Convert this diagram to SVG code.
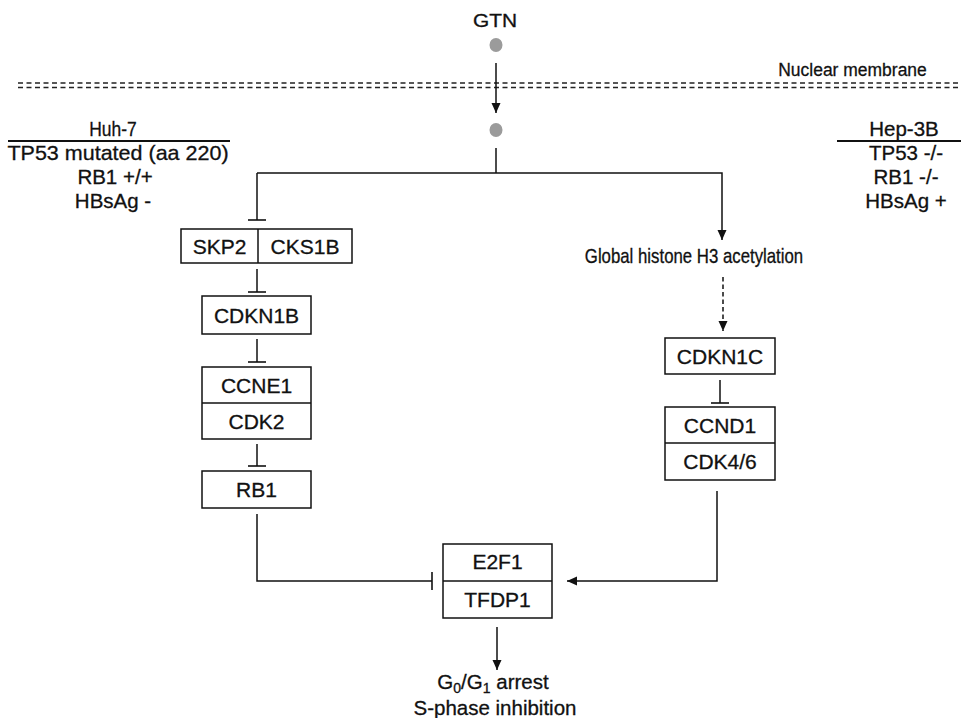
<svg xmlns="http://www.w3.org/2000/svg" width="961" height="718" viewBox="0 0 961 718">
<style>
text{font-family:"Liberation Sans",Arial,sans-serif;fill:#111;stroke:#111;stroke-width:0.3;}
.lbl{font-size:20.5px;text-anchor:middle;}
.box{font-size:21px;text-anchor:middle;}
.node rect{fill:#fff;stroke:#111;stroke-width:1.5;}
.node line{stroke:#111;stroke-width:1.5;}
.edge{fill:none;stroke:#111;stroke-width:1.5;}
.dash{stroke-dasharray:4.5 3;}
.mem{stroke:#222;stroke-width:1.5;stroke-dasharray:5 3.5;}
.dot{fill:#9b9b9b;}
</style>
<defs>
<marker id="arrow" markerUnits="userSpaceOnUse" markerWidth="10" markerHeight="10" refX="10" refY="5" orient="auto" viewBox="0 0 10 10">
<path d="M0,0.5 L10,5 L0,9.5 z" fill="#111"/>
</marker>
<marker id="tee" markerUnits="userSpaceOnUse" markerWidth="4" markerHeight="20" refX="2" refY="10" orient="auto" viewBox="0 0 4 20">
<path d="M2,1 L2,19" stroke="#111" stroke-width="1.6"/>
</marker>
</defs>

<g id="membrane">
<line class="mem" x1="18" y1="83" x2="961" y2="83"/>
<line class="mem" x1="18" y1="87.5" x2="961" y2="87.5"/>
<text transform="translate(852.5,76) scale(0.92,1)" x="0" y="0" font-size="19" text-anchor="middle">Nuclear membrane</text>
</g>

<g id="gtn">
<text transform="translate(495,27) scale(1.1,1)" x="0" y="0" font-size="19" text-anchor="middle">GTN</text>
<ellipse class="dot" cx="496" cy="45" rx="6.5" ry="7"/>
</g>
<g id="gtn-nucleus">
<ellipse class="dot" cx="496" cy="130" rx="6.5" ry="7"/>
</g>

<g id="huh7">
<text class="lbl" transform="translate(113,136) scale(0.85,1)" x="0" y="0">Huh-7</text>
<line x1="8" y1="141" x2="230" y2="141" stroke="#111" stroke-width="1.8"/>
<text class="lbl" transform="translate(118,160) scale(1.05,1)" x="0" y="0">TP53 mutated (aa 220)</text>
<text class="lbl" x="115" y="184">RB1 +/+</text>
<text class="lbl" x="113" y="208">HBsAg -</text>
</g>

<g id="hep3b">
<text class="lbl" x="904" y="136">Hep-3B</text>
<line x1="837" y1="141" x2="961" y2="141" stroke="#111" stroke-width="1.8"/>
<text class="lbl" x="906" y="160">TP53 -/-</text>
<text class="lbl" x="906" y="184">RB1 -/-</text>
<text class="lbl" x="906" y="208">HBsAg +</text>
</g>

<g id="skp2-cks1b" class="node">
<rect x="181" y="229" width="171" height="34"/>
<line x1="258" y1="229" x2="258" y2="263"/>
<text class="box" x="219.5" y="253.5">SKP2</text>
<text class="box" x="305" y="253.5">CKS1B</text>
</g>

<g id="cdkn1b" class="node">
<rect x="202" y="296" width="109" height="38"/>
<text class="box" x="256.5" y="322.5">CDKN1B</text>
</g>

<g id="ccne1-cdk2" class="node">
<rect x="202" y="367" width="109" height="72"/>
<line x1="202" y1="403" x2="311" y2="403"/>
<text class="box" x="256.5" y="392.5">CCNE1</text>
<text class="box" x="256.5" y="428.5">CDK2</text>
</g>

<g id="rb1" class="node">
<rect x="202" y="471" width="109" height="37"/>
<text class="box" x="256.5" y="497">RB1</text>
</g>

<g id="h3-acetylation">
<text transform="translate(694,263) scale(0.84,1)" x="0" y="0" font-size="20" text-anchor="middle">Global histone H3 acetylation</text>
</g>

<g id="cdkn1c" class="node">
<rect x="665" y="338" width="110" height="36"/>
<text class="box" x="720" y="363.5">CDKN1C</text>
</g>

<g id="ccnd1-cdk46" class="node">
<rect x="665" y="407" width="110" height="73"/>
<line x1="665" y1="443" x2="775" y2="443"/>
<text class="box" x="720" y="432.5">CCND1</text>
<text class="box" x="720" y="469">CDK4/6</text>
</g>

<g id="e2f1-tfdp1" class="node">
<rect x="443" y="544" width="109" height="74"/>
<line x1="443" y1="581" x2="552" y2="581"/>
<text class="box" x="497.5" y="569">E2F1</text>
<text class="box" x="497.5" y="607">TFDP1</text>
</g>

<g id="outcome">
<text class="lbl" x="493" y="689" font-size="21">G<tspan font-size="14" dy="4">0</tspan><tspan dy="-4">/G</tspan><tspan font-size="14" dy="4">1</tspan><tspan dy="-4"> arrest</tspan></text>
<text class="lbl" x="495" y="715" font-size="21">S-phase inhibition</text>
</g>

<g id="connectors">
<line class="edge" x1="496" y1="63" x2="496" y2="113" marker-end="url(#arrow)"/>
<polyline class="edge" points="496,148 496,173"/>
<polyline class="edge" points="257,173 722,173 722,240" marker-end="url(#arrow)"/>
<line class="edge" x1="257" y1="173" x2="257" y2="220" marker-end="url(#tee)"/>
<line class="edge" x1="257" y1="269" x2="257" y2="292" marker-end="url(#tee)"/>
<line class="edge" x1="257" y1="339" x2="257" y2="362" marker-end="url(#tee)"/>
<line class="edge" x1="257" y1="444" x2="257" y2="466" marker-end="url(#tee)"/>
<polyline class="edge" points="257,514 257,581 432,581" marker-end="url(#tee)"/>
<line class="edge dash" x1="723" y1="277" x2="723" y2="331" marker-end="url(#arrow)"/>
<line class="edge" x1="720" y1="380" x2="720" y2="403" marker-end="url(#tee)"/>
<polyline class="edge" points="717,491 717,581 567,581" marker-end="url(#arrow)"/>
<line class="edge" x1="497" y1="627" x2="497" y2="670" marker-end="url(#arrow)"/>
</g>
</svg>
